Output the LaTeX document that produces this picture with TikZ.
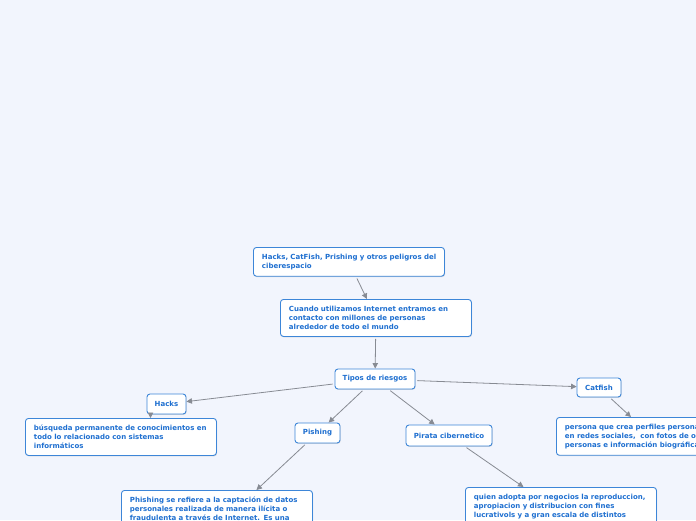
\documentclass[tikz,border=0pt]{standalone}
\usepackage{fontspec}
\setmainfont{DejaVu Sans}
\usetikzlibrary{arrows.meta,shadows}
\definecolor{bg}{HTML}{F2F5FD}
\definecolor{txt}{HTML}{1E6FD0}
\definecolor{bord}{HTML}{3D86D8}
\definecolor{edgec}{HTML}{878B93}
\tikzset{
  box/.style={draw=bord, line width=0.9pt, fill=white, rounded corners=3pt, text=txt,
    font=\fontsize{7}{9}\selectfont\bfseries,
    drop shadow={shadow xshift=0.6pt, shadow yshift=-0.9pt, opacity=0.25}},
  widebox/.style={box, anchor=north west, text width=174pt, align=left, inner xsep=8.5pt, inner ysep=6.5pt},
  smallbox/.style={box, anchor=center, inner sep=0pt, align=center},
  edge/.style={draw=edgec, line width=0.8pt, -{Triangle[length=5.5pt,width=5.5pt]}, shorten <=2pt}
}
\begin{document}
\begin{tikzpicture}[x=1pt,y=-1pt]
\fill[bg] (0,0) rectangle (696,520);
\useasboundingbox (0,0) rectangle (696,520);
\clip (0,0) rectangle (696,520);
\node[widebox, minimum height=28pt] (title) at (253,247) {\mbox{Hacks, CatFish, Prishing y otros peligros del}\\ ciberespacio};
\node[widebox, minimum height=37pt] (cuando) at (280,299) {Cuando utilizamos Internet entramos en\\ contacto con millones de personas\\ alrededor de todo el mundo};
\node[smallbox, minimum width=80pt, minimum height=20pt] (tipos) at (375,379) {Tipos de riesgos};
\node[smallbox, minimum width=39pt, minimum height=20pt] (hacks) at (166.5,404) {Hacks};
\node[widebox, minimum height=37pt] (busq) at (25,418) {búsqueda permanente de conocimientos en\\ todo lo relacionado con sistemas\\ informáticos};
\node[smallbox, minimum width=45pt, minimum height=20pt] (pishing) at (317.5,433) {Pishing};
\node[smallbox, minimum width=86pt, minimum height=21pt] (pirata) at (449,435.5) {Pirata cibernetico};
\node[smallbox, minimum width=44pt, minimum height=19pt] (catfish) at (599,387.5) {Catfish};
\node[widebox, minimum height=37pt] (persona) at (556,417) {persona que crea perfiles personales\\ en redes sociales,\ \ con fotos de otras\\ personas e información biográfica};
\node[widebox] (phishing) at (121,490) {Phishing se refiere a la captación de datos\\ personales realizada de manera ilícita o\\ fraudulenta a través de Internet. Es una};
\node[widebox] (quien) at (465,487) {quien adopta por negocios la reproduccion,\\ apropiacion y distribucion con fines\\ lucrativols y a gran escala de distintos};
\draw[edge] (title) -- (cuando);
\draw[edge] (cuando) -- (tipos);
\draw[edge] (tipos) -- (hacks);
\draw[edge] (tipos) -- (pishing);
\draw[edge] (tipos) -- (pirata);
\draw[edge] (tipos) -- (catfish);
\draw[edge, shorten <=0pt] ([xshift=-16pt]hacks.south) -- ([xshift=-16pt]hacks.south |- busq.north);
\draw[edge] (catfish) -- (persona);
\draw[edge] (pishing) -- ([xshift=39.5pt]phishing.north);
\draw[edge] (pirata) -- ([xshift=-37.5pt]quien.north);
\end{tikzpicture}
\end{document}
